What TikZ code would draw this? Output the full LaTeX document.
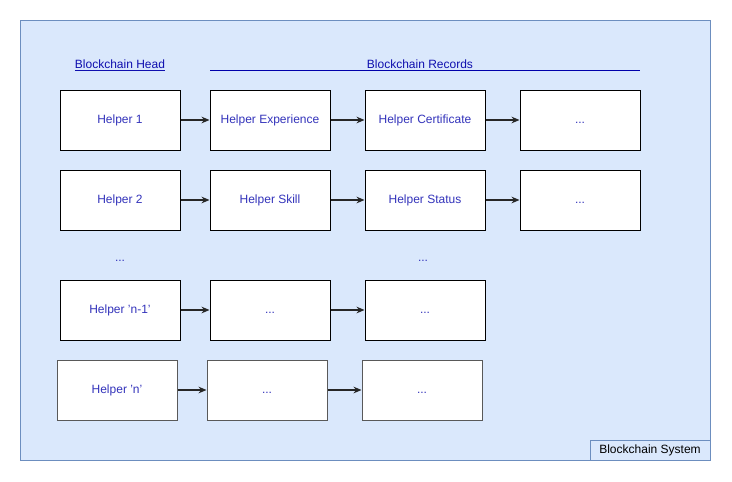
\documentclass[tikz,border=0pt]{standalone}
\usepackage{fontspec}
\setmainfont{Liberation Sans}
\usetikzlibrary{arrows.meta}
\definecolor{bgfill}{HTML}{DAE8FC}
\definecolor{bgline}{HTML}{6C8EBF}
\definecolor{txt}{HTML}{3333BB}
\definecolor{hdr}{HTML}{0000AA}
\begin{document}
\begin{tikzpicture}[x=0.75pt,y=-0.75pt,
  blockbox/.style={draw=black,fill=white,line width=0.75pt,minimum width=90pt,minimum height=45pt,inner sep=0pt,text height=6.6pt,text depth=1.6pt,text=txt,font=\fontsize{9}{11}\selectfont},
  greybox/.style={blockbox,draw=black!65},
  link/.style={-{Stealth[length=6pt,width=5pt]},line width=0.9pt,draw=black!85},
  lbl/.style={text=txt,font=\fontsize{9}{11}\selectfont,inner sep=0pt,text height=6.6pt,text depth=1.6pt}]
\useasboundingbox (0,0) rectangle (732,482);
\draw[fill=bgfill,draw=bgline,line width=0.75pt] (20,20) rectangle (710,460);
\node[draw=bgline,line width=0.75pt,minimum width=90pt,minimum height=15pt,inner sep=0pt,text height=6.6pt,text depth=1.6pt,font=\fontsize{9}{11}\selectfont] (sys) at (650,450) {Blockchain System};
% headers
\node[lbl,text=hdr!70!txt] (head) at (120,65) {\underline{Blockchain Head}};
\node[lbl,text=hdr!70!txt] (rec) at (420,65) {Blockchain Records};
\coordinate (recl) at (210,70);
\coordinate (recr) at (640,70);
\draw[draw=hdr,line width=0.75pt] (recl) -- (recr);
% row 1
\node[blockbox] (a1) at (120,120) {Helper 1};
\node[blockbox] (b1) at (270,120) {Helper Experience};
\node[blockbox] (c1) at (425,120) {Helper Certificate};
\node[blockbox] (d1) at (580,120) {...};
% row 2
\node[blockbox] (a2) at (120,200) {Helper 2};
\node[blockbox] (b2) at (270,200) {Helper Skill};
\node[blockbox] (c2) at (425,200) {Helper Status};
\node[blockbox] (d2) at (580,200) {...};
% dots
\node[lbl] (dl) at (120,258) {...};
\node[lbl] (dr) at (423,258) {...};
% row 3
\node[blockbox] (a3) at (120,310) {Helper 'n-1'};
\node[blockbox] (b3) at (270,310) {...};
\node[blockbox] (c3) at (425,310) {...};
% row 4
\node[greybox] (a4) at (117,390) {Helper 'n'};
\node[greybox] (b4) at (267,390) {...};
\node[greybox] (c4) at (422,390) {...};
% links
\draw[link] (a1) -- (b1);
\draw[link] (b1) -- (c1);
\draw[link] (c1) -- (d1);
\draw[link] (a2) -- (b2);
\draw[link] (b2) -- (c2);
\draw[link] (c2) -- (d2);
\draw[link] (a3) -- (b3);
\draw[link] (b3) -- (c3);
\draw[link] (a4) -- (b4);
\draw[link] (b4) -- (c4);
\end{tikzpicture}
\end{document}
